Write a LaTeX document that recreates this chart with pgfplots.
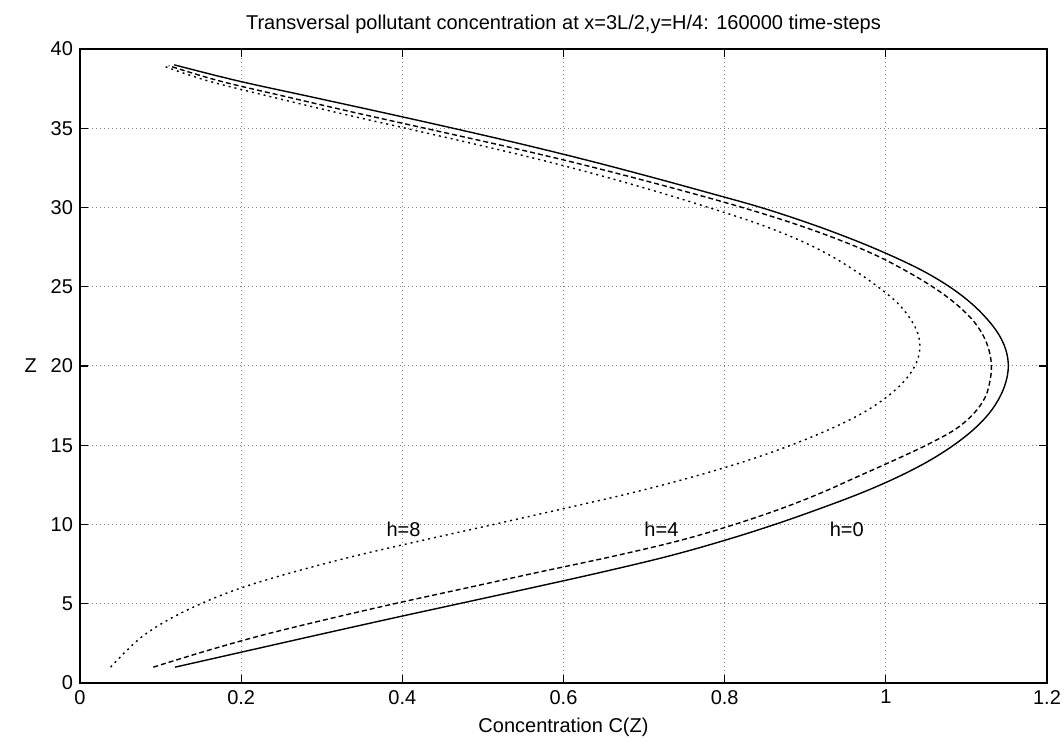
\documentclass[border=0pt]{standalone}
\usepackage{pgfplots}
\pgfplotsset{compat=1.18}
\usepackage{fontspec}
\setmainfont{Liberation Sans}
\begin{document}
\begin{tikzpicture}
\begin{axis}[
  at={(0,0)}, anchor=south west,
  scale only axis,
  width=483.5pt, height=317pt,
  xmin=0, xmax=1.2, ymin=0, ymax=40,
  xtick={0,0.2,...,1.2}, ytick={0,5,...,40},
  xticklabels={0,0.2,0.4,0.6,0.8,1,1.2},
  /pgf/number format/assume math mode=true,
  tick align=inside, major tick length=4pt,
  tick style={black, line width=0.6pt},
  axis line style={line width=0.8pt},
  grid=major,
  major grid style={gray, line width=0.5pt, dash pattern=on 0.5pt off 1.5pt},
  tick label style={font=\fontsize{10}{12}\selectfont},
  label style={font=\fontsize{10}{12}\selectfont},
  xlabel={Concentration C(Z)},
  ylabel={Z},
  ylabel style={rotate=-90},
  title={Transversal pollutant concentration at x=3L/2,y=H/4: 160000 time-steps},
  title style={font=\fontsize{10}{12}\selectfont, yshift=-2pt},
]
% h=0
\addplot[black, line width=0.7pt, smooth, tension=0.6] coordinates {
(0.118,1) (0.205,2) (0.292,3) (0.38,4) (0.47,5) (0.56,6) (0.648,7) (0.73,8)
(0.80,9) (0.862,10) (0.918,11) (0.97,12) (1.015,13) (1.053,14) (1.084,15)
(1.109,16) (1.128,17) (1.141,18) (1.149,19) (1.152,20) (1.149,21) (1.140,22)
(1.125,23) (1.105,24) (1.079,25) (1.046,26) (1.005,27) (0.958,28) (0.905,29)
(0.845,30) (0.775,31) (0.703,32) (0.628,33) (0.548,34) (0.463,35) (0.375,36)
(0.285,37) (0.195,38) (0.117,39)
};
% h=4
\addplot[black, line width=0.7pt, smooth, tension=0.6, dash pattern=on 2.5pt off 1.5pt] coordinates {
(0.091,1) (0.155,2) (0.225,3) (0.305,4) (0.39,5) (0.48,6) (0.57,7) (0.662,8)
(0.745,9) (0.812,10) (0.87,11) (0.92,12) (0.964,13) (1.008,14) (1.05,15)
(1.086,16) (1.109,17) (1.123,18) (1.129,19) (1.131,20) (1.128,21) (1.12,22)
(1.106,23) (1.085,24) (1.058,25) (1.025,26) (0.987,27) (0.94,28) (0.885,29)
(0.822,30) (0.752,31) (0.678,32) (0.60,33) (0.516,34) (0.428,35) (0.34,36)
(0.255,37) (0.172,38) (0.11,38.95)
};
% h=8
\addplot[black, line width=0.7pt, smooth, tension=0.6, dash pattern=on 1pt off 2pt] coordinates {
(0.038,1) (0.057,2) (0.079,3) (0.11,4) (0.15,5) (0.20,6) (0.265,7) (0.34,8)
(0.425,9) (0.513,10) (0.6,11) (0.685,12) (0.76,13) (0.826,14) (0.882,15)
(0.93,16) (0.97,17) (1.0,18) (1.022,19) (1.036,20) (1.042,21) (1.04,22)
(1.03,23) (1.014,24) (0.99,25) (0.962,26) (0.93,27) (0.89,28) (0.84,29)
(0.78,30) (0.716,31) (0.647,32) (0.572,33) (0.49,34) (0.404,35) (0.318,36)
(0.236,37) (0.158,38) (0.105,38.9)
};
\node[anchor=west, inner sep=0pt, font=\fontsize{10}{12}\selectfont] at (axis cs:0.38,9.7) {h=8};
\node[anchor=west, inner sep=0pt, font=\fontsize{10}{12}\selectfont] at (axis cs:0.70,9.7) {h=4};
\node[anchor=west, inner sep=0pt, font=\fontsize{10}{12}\selectfont] at (axis cs:0.93,9.7) {h=0};
\end{axis}
\pgfresetboundingbox
\path (-40pt,-36pt) rectangle (492pt,341.5pt);
\end{tikzpicture}
\end{document}
